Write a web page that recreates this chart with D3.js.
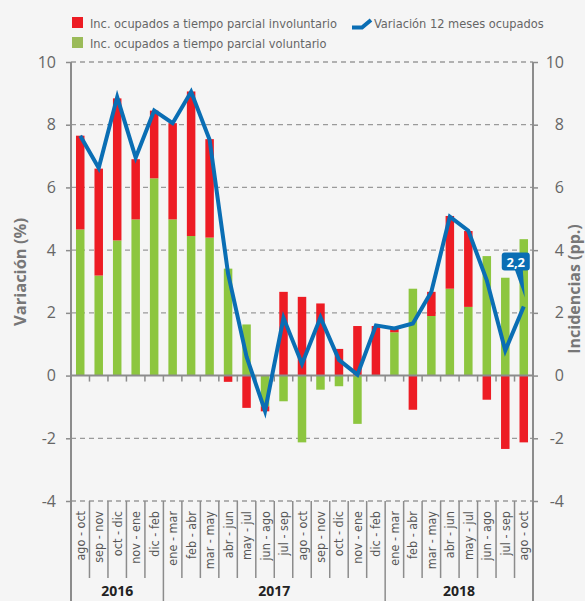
<!DOCTYPE html>
<html>
<head>
<meta charset="utf-8">
<script src="https://cdn.jsdelivr.net/npm/d3@7"></script>
<style>
  body { margin: 0; background: #f5f5f5; }
  svg { display: block; background: #f5f5f5; }
</style>
</head>
<body>
<div id="chart"></div>
<script>
// Periods (moving three-month windows)
const periods = [
    "ago - oct", "sep - nov", "oct - dic", "nov - ene", "dic - feb",
    "ene - mar", "feb - abr", "mar - may", "abr - jun", "may - jul", "jun - ago",
    "jul - sep", "ago - oct", "sep - nov", "oct - dic", "nov - ene", "dic - feb",
    "ene - mar", "feb - abr", "mar - may", "abr - jun", "may - jul", "jun - ago",
    "jul - sep", "ago - oct"
];
const years = ["2016", "2017", "2018"];
const yearCounts = [5, 12, 8];

// Contribution of part-time workers (pp.)
const involuntario = [2.99, 3.41, 4.53, 1.92, 2.16, 3.07, 4.61, 3.14, -0.20, -1.03, -0.16,
    2.67, 2.51, 2.30, 0.85, 1.58, 1.58, 0.12, -1.09, 0.77, 2.32, 2.42, -0.77, -2.34, -2.13];
const voluntario = [4.66, 3.19, 4.31, 4.98, 6.29, 4.98, 4.45, 4.40, 3.41, 1.63, -0.98,
    -0.82, -2.13, -0.45, -0.34, -1.54, 0.00, 1.38, 2.77, 1.90, 2.77, 2.19, 3.81, 3.12, 4.35];
// 12-month change in employed (%)
const variacion = [7.65, 6.62, 8.88, 6.95, 8.45, 8.05, 9.05, 7.52, 3.25, 0.60, -1.13,
    1.84, 0.37, 1.85, 0.50, 0.03, 1.60, 1.50, 1.66, 2.67, 5.07, 4.62, 3.04, 0.80, 2.20];
const yTicks = [-4, -2, 0, 2, 4, 6, 8, 10];

const margin = {top: 62, right: 52, bottom: 100, left: 71};
const width = 585 - margin.left - margin.right;
const height = 601 - margin.top - margin.bottom;

const red = "#ed1c24", green = "#8dc63f", blue = "#0a6eb4", grey = "#8c8c8c";
const labelFont = "'DejaVu Sans Condensed', sans-serif";

const svg = d3.select("#chart")
    .append("svg")
    .attr("width", 585)
    .attr("height", 601);

const g = svg.append("g")
    .attr("transform", `translate(${margin.left},${margin.top})`);

const idx = d3.range(periods.length);
const x = d3.scaleBand().domain(idx).range([0, width]);
const y = d3.scaleLinear().domain([-4, 10]).range([height, 0]);

// dashed grid
g.selectAll(".grid")
    .data(yTicks.filter(d => d !== 0))
    .enter()
    .append("line")
    .attr("x1", 0).attr("x2", width)
    .attr("y1", d => y(d)).attr("y2", d => y(d))
    .style("stroke", "#9a9a9a")
    .style("stroke-width", 1.3)
    .style("stroke-dasharray", "5,4");

// stacked bars
const table = idx.map(i => ({i: i, vol: voluntario[i], inv: involuntario[i]}));
const series = d3.stack()
    .keys(["vol", "inv"])
    .offset(d3.stackOffsetDiverging)(table);
const colors = {vol: green, inv: red};
const barW = 8.5;

g.selectAll(".serie")
    .data(series)
    .enter()
    .append("g")
    .style("fill", d => colors[d.key])
    .selectAll("rect")
    .data(d => d)
    .enter()
    .append("rect")
    .attr("x", d => x(d.data.i) + x.bandwidth() / 2 - barW / 2)
    .attr("width", barW)
    .attr("y", d => y(Math.max(d[0], d[1])))
    .attr("height", d => Math.abs(y(d[0]) - y(d[1])));

// zero line + ticks
g.append("line")
    .attr("x1", 0).attr("x2", width)
    .attr("y1", y(0)).attr("y2", y(0))
    .style("stroke", grey).style("stroke-width", 2);
g.selectAll(".ztick")
    .data(d3.range(1, periods.length))
    .enter()
    .append("line")
    .attr("x1", d => d * x.step()).attr("x2", d => d * x.step())
    .attr("y1", y(0)).attr("y2", y(0) + 6)
    .style("stroke", grey).style("stroke-width", 1.5);

// line
g.append("path")
    .datum(variacion)
    .attr("d", d3.line()
        .x((d, i) => x(i) + x.bandwidth() / 2)
        .y(d => y(d)))
    .style("fill", "none")
    .style("stroke", blue)
    .style("stroke-width", 4)
    .style("stroke-linejoin", "miter");

// y axes
const leftAxis = g.append("g")
    .call(d3.axisLeft(y).tickValues(yTicks).tickFormat(d => String(d)).tickSize(5).tickPadding(10));
const rightAxis = g.append("g")
    .attr("transform", `translate(${width},0)`)
    .call(d3.axisRight(y).tickValues(yTicks).tickFormat(d => String(d)).tickSize(5).tickPadding(26));
[leftAxis, rightAxis].forEach(a => {
    a.select(".domain").remove();
    a.selectAll("line").style("stroke", grey).style("stroke-width", 1.5);
    a.selectAll("text")
        .style("font-family", "'Open Sans', sans-serif")
        .style("font-size", "16px")
        .style("fill", "#666");
});
rightAxis.selectAll("text").attr("text-anchor", "end");

// axis lines running down to bottom edge
[0, width].forEach(px => {
    g.append("line")
        .attr("x1", px).attr("x2", px)
        .attr("y1", 0).attr("y2", 601 - margin.top)
        .style("stroke", grey).style("stroke-width", 2);
});

// period separators below plot
const yearBounds = d3.cumsum(yearCounts);
g.selectAll(".sep")
    .data(d3.range(1, periods.length))
    .enter()
    .append("line")
    .attr("x1", d => d * x.step()).attr("x2", d => d * x.step())
    .attr("y1", height)
    .attr("y2", d => yearBounds.includes(d) ? 601 - margin.top : height + 77)
    .style("stroke", grey).style("stroke-width", 1.5);

// period labels
g.selectAll(".plabel")
    .data(periods)
    .enter()
    .append("text")
    .attr("transform", (d, i) => `translate(${x(i) + x.bandwidth() / 2 + 4.5},${height + 10}) rotate(-90)`)
    .attr("text-anchor", "end")
    .style("font-family", labelFont)
    .style("font-size", "12.5px")
    .style("fill", "#555")
    .text(d => d);

// year labels
g.selectAll(".ylabel")
    .data(years)
    .enter()
    .append("text")
    .attr("x", (d, i) => (yearBounds[i] - yearCounts[i] / 2) * x.step())
    .attr("y", 601 - margin.top - 5)
    .attr("text-anchor", "middle")
    .style("font-family", "'Open Sans', sans-serif")
    .style("font-weight", "bold")
    .style("font-size", "14px")
    .style("fill", "#222")
    .text(d => d);

// axis titles
svg.append("text")
    .attr("transform", "translate(26,272) rotate(-90)")
    .attr("text-anchor", "middle")
    .style("font-family", "'Open Sans', sans-serif")
    .style("font-weight", "bold")
    .style("font-size", "16.5px")
    .style("fill", "#777")
    .text("Variación (%)");
svg.append("text")
    .attr("transform", "translate(580,289) rotate(-90)")
    .attr("text-anchor", "middle")
    .style("font-family", "'Open Sans', sans-serif")
    .style("font-weight", "bold")
    .style("font-size", "16px")
    .style("fill", "#777")
    .text("Incidencias (pp.)");

// callout on last point
const last = variacion.length - 1;
const px = x(last) + x.bandwidth() / 2, py = y(variacion[last]);
g.append("path")
    .attr("d", `M${px - 9},${py - 37} L${px - 1},${py - 37} L${px + 1},${py - 9} Z`)
    .style("fill", blue);
g.append("rect")
    .attr("x", px - 22).attr("y", py - 54)
    .attr("width", 28).attr("height", 18)
    .attr("rx", 3)
    .style("fill", blue);
g.append("text")
    .attr("x", px - 8).attr("y", py - 40)
    .attr("text-anchor", "middle")
    .style("font-family", "'Open Sans', sans-serif")
    .style("font-weight", "bold")
    .style("font-size", "13px")
    .style("fill", "white")
    .text(d3.format(".1f")(variacion[last]).replace(".", ","));

// legend
const legend = svg.append("g");
[[red, "Inc. ocupados a tiempo parcial involuntario"],
 [green, "Inc. ocupados a tiempo parcial voluntario"]].forEach((d, i) => {
    legend.append("rect")
        .attr("x", 72).attr("y", 17 + i * 20)
        .attr("width", 11).attr("height", 11)
        .style("fill", i === 0 ? red : "#9bbb59");
    legend.append("text")
        .attr("x", 90).attr("y", 28 + i * 20)
        .style("font-family", labelFont)
        .style("font-size", "12.7px")
        .style("fill", "#666")
        .text(d[1]);
});
legend.append("path")
    .attr("d", "M352,27.5 L362,27.5 L371,20")
    .style("fill", "none")
    .style("stroke", blue)
    .style("stroke-width", 4);
legend.append("text")
    .attr("x", 374).attr("y", 28)
    .style("font-family", labelFont)
    .style("font-size", "12.7px")
    .style("fill", "#666")
    .text("Variación 12 meses ocupados");
</script>
</body>
</html>
